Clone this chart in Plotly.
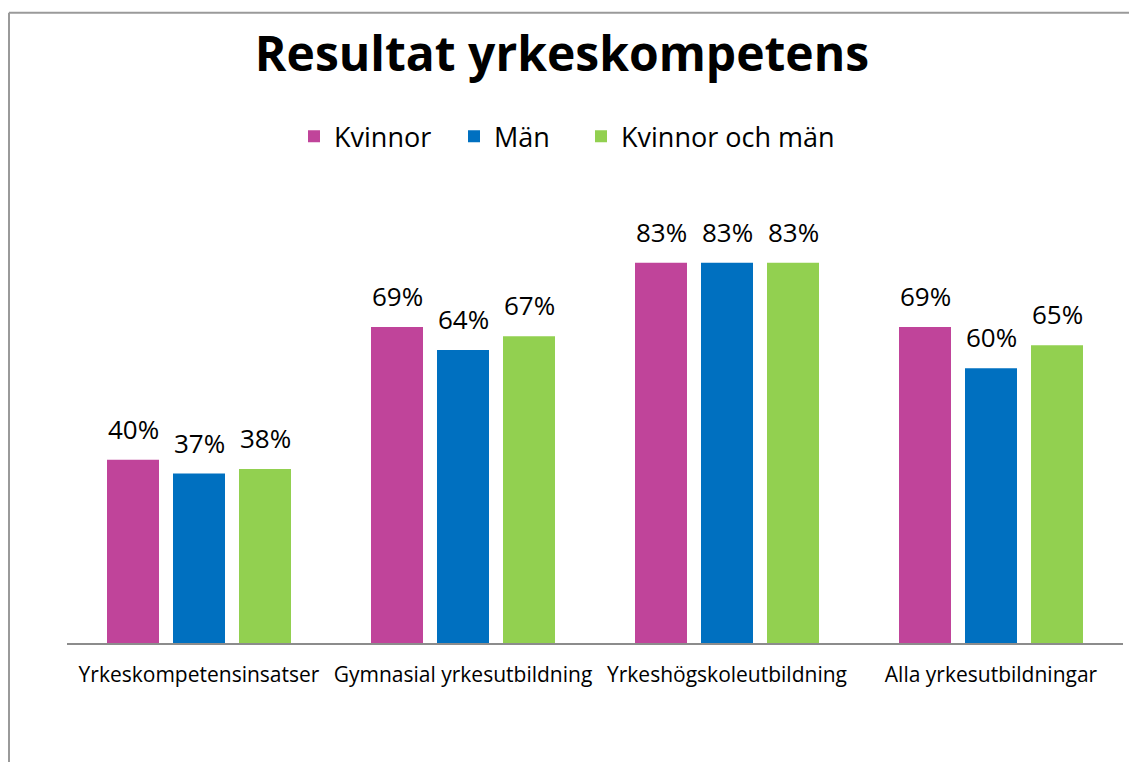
import plotly.graph_objects as go

categories = ["Yrkeskompetensinsatser", "Gymnasial yrkesutbildning",
              "Yrkeshögskoleutbildning", "Alla yrkesutbildningar"]
kvinnor = [40, 69, 83, 69]
man = [37, 64, 83, 60]
kvinnor_och_man = [38, 67, 83, 65]

series = [("Kvinnor", kvinnor, "#C0449A"),
          ("Män", man, "#0070C0"),
          ("Kvinnor och män", kvinnor_och_man, "#92D050")]

FONT = "Open Sans"
OFF = 8  # page body margin
W, H = 1137 - OFF, 762 - OFF
L, R, B = 67 - OFF, W - (1123 - OFF), H - (643 - OFF)
ph = 100 * 4.578
T = H - B - ph
pw = W - L - R

def px(x):
    return (x - OFF - L) / pw

def py(y):
    return (H - B - (y - OFF)) / ph

legend_ids = ["legend", "legend2", "legend3"]
legend_text_x = [334, 494, 621]

fig = go.Figure()
for (name, vals, col), lid in zip(series, legend_ids):
    fig.add_trace(go.Bar(
        x=categories, y=vals, name=name, marker_color=col,
        marker_line_width=0, legend=lid,
    ))

slot = 66
for i, (name, vals, col) in enumerate(series):
    for c, v in zip(categories, vals):
        fig.add_annotation(x=c, y=v, xref="x", yref="y", text=f"{v}%",
                           showarrow=False, xanchor="center", yanchor="bottom",
                           xshift=(i - 1) * slot, yshift=12, borderpad=0,
                           font=dict(size=26, color="black", family=FONT))

legend_layout = {}
for lid, tx in zip(legend_ids, legend_text_x):
    legend_layout[lid] = dict(orientation="h", x=px(tx - 40), xanchor="left",
                              y=py(137), yanchor="middle", bgcolor="rgba(0,0,0,0)",
                              font=dict(size=27, family=FONT), itemwidth=30)

fig.update_layout(
    width=W, height=H,
    margin=dict(l=L, r=R, t=T, b=B, pad=0),
    paper_bgcolor="white", plot_bgcolor="white",
    barmode="group", bargap=0.25, bargroupgap=0.212,
    font=dict(family=FONT, color="black"),
    title=dict(text="<b>Resultat yrkeskompetens</b>", x=(562 - OFF) / W, xanchor="center",
               y=1 - (54 - OFF) / H, yanchor="middle",
               font=dict(size=48, family=FONT, color="black")),
    xaxis=dict(showline=True, linecolor="#8c8c8c", linewidth=2, ticks="",
               tickfont=dict(size=21, family=FONT), ticklabelstandoff=12),
    yaxis=dict(range=[0, 100], visible=False, showgrid=False),
    showlegend=True,
    **legend_layout,
)

fig.add_shape(type="line", xref="paper", yref="paper", x0=px(9), x1=px(9), y0=py(13), y1=py(780),
              line=dict(color="#9a9a9a", width=2))
fig.add_shape(type="line", xref="paper", yref="paper", x0=px(9), x1=px(1150), y0=py(13), y1=py(13),
              line=dict(color="#9a9a9a", width=2))

fig.write_html("out.html")
